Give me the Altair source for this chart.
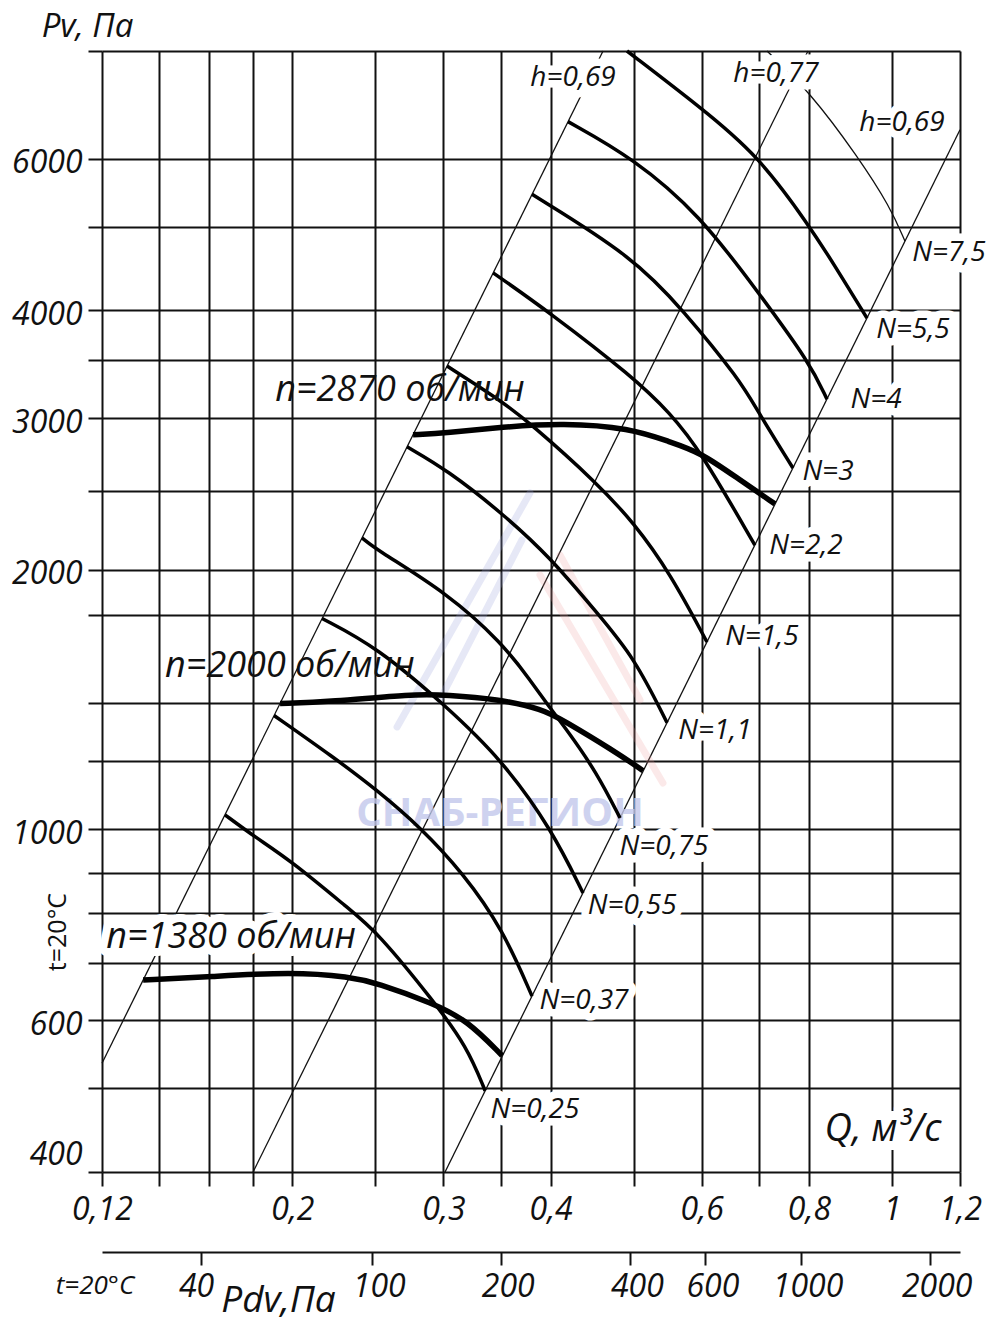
import altair as alt
import pandas as pd

# ---------------- axes / grid values ----------------
GRID_Q = [0.12, 0.14, 0.16, 0.18, 0.2, 0.25, 0.3, 0.35, 0.4, 0.5, 0.6, 0.7, 0.8, 1.0, 1.2]
GRID_PV = [400, 500, 600, 700, 800, 890, 1000, 1200, 1400, 1770, 2000, 2470,
           3000, 3500, 4000, 5000, 6000, 8000]
Q_LABELS = [0.12, 0.2, 0.3, 0.4, 0.6, 0.8, 1.0, 1.2]
PV_LABELS = [400, 600, 1000, 2000, 3000, 4000, 6000]
PDV_TICKS = [40, 100, 200, 400, 600, 1000, 2000]
PDV_DOMAIN = [23.5, 2354]

# ---------------- thin system (efficiency) lines ----------------
H1_Q = [0.12, 0.4604]
H1_PV = [535, 8000]
H2_Q = [0.18, 0.798]
H2_PV = [400, 8000]
H3_Q = [0.3013, 1.2]
H3_PV = [400, 6481]

# ---------------- rpm curves ----------------
R1380_Q = [0.134, 0.16, 0.2, 0.2335, 0.251, 0.2917, 0.3197, 0.3511]
R1380_PV = [668, 674, 683, 674, 663, 628, 600, 546]
R2000_Q = [0.1935, 0.2213, 0.2765, 0.3029, 0.3465, 0.3919, 0.4135, 0.4729, 0.5126]
R2000_PV = [1399, 1405, 1435, 1431, 1416, 1378, 1338, 1235, 1169]
R2870_Q = [0.2765, 0.3029, 0.3511, 0.4135, 0.495, 0.551, 0.5972, 0.6648, 0.7303]
R2870_PV = [2869, 2882, 2929, 2960, 2921, 2814, 2740, 2542, 2385]

# ---------------- power curves ----------------
N025_Q = [0.1669, 0.1809, 0.1987, 0.2335, 0.251, 0.2917, 0.3197, 0.3355]
N025_PV = [1039, 979, 921, 806, 760, 633, 559, 497]
N037_Q = [0.1904, 0.2231, 0.251, 0.2817, 0.3163, 0.3521, 0.3805]
N037_PV = [1355, 1213, 1110, 1006, 889, 764, 640]
N055_Q = [0.2166, 0.251, 0.3029, 0.3511, 0.4015, 0.4363]
N055_PV = [1756, 1627, 1386, 1203, 998, 843]
N075_Q = [0.2411, 0.251, 0.3029, 0.3511, 0.3785, 0.3993, 0.418, 0.453, 0.4819]
N075_PV = [2178, 2108, 1880, 1645, 1490, 1382, 1303, 1162, 1030]
N11_Q = [0.2721, 0.3029, 0.3511, 0.3993, 0.453, 0.5003, 0.5467]
N11_PV = [2778, 2611, 2327, 2069, 1782, 1584, 1329]
N15_Q = [0.3029, 0.3492, 0.3785, 0.453, 0.5003, 0.551, 0.6085]
N15_PV = [3447, 3148, 2960, 2522, 2266, 1983, 1649]
N22_Q = [0.3428, 0.3983, 0.499, 0.551, 0.5972, 0.692]
N22_PV = [4422, 3983, 3347, 3041, 2754, 2136]
N3_Q = [0.3805, 0.499, 0.5706, 0.6648, 0.6959, 0.7664]
N3_PV = [5454, 4615, 4004, 3321, 3065, 2625]
N4_Q = [0.4191, 0.499, 0.5972, 0.6977, 0.8023, 0.8398]
N4_PV = [6624, 6012, 5163, 4202, 3475, 3155]
N55_Q = [0.491, 0.5972, 0.6977, 0.8023, 0.8535, 0.9349]
N55_PV = [8000, 6889, 6060, 5000, 4541, 3918]
N75_Q = [0.7148, 0.8023, 0.9126, 0.9949, 1.0353]
N75_PV = [8000, 7170, 6028, 5274, 4812]

# ---------------- faint watermark logo strokes ----------------
LOGO_B1_Q = [0.2649, 0.3785]
LOGO_B1_PV = [1314, 2456]
LOGO_B2_Q = [0.2972, 0.3704]
LOGO_B2_PV = [1412, 2166]
LOGO_R1_Q = [0.3887, 0.5407]
LOGO_R1_PV = [1972, 1131]
LOGO_R2_Q = [0.4103, 0.5084]
LOGO_R2_PV = [2080, 1412]

# ---------------- labels ----------------
LBL_TEXT = ["h=0,69", "h=0,77", "h=0,69", "N=7,5", "N=5,5", "N=4", "N=3", "N=2,2",
            "N=1,5", "N=1,1", "N=0,75", "N=0,55", "N=0,37", "N=0,25"]
LBL_Q = [0.4248, 0.7323, 1.027, 1.165, 1.0578, 0.958, 0.842, 0.7938,
         0.7052, 0.6217, 0.5423, 0.4978, 0.4375, 0.3835]
LBL_PV = [7444, 7524, 6601, 4665, 3796, 3148, 2597, 2131, 1671, 1300, 954, 814, 632, 472]

RPM_TEXT = ["n=2870 об/мин", "n=2000 об/мин", "n=1380 об/мин"]
RPM_Q = [0.267, 0.1987, 0.1697]
RPM_PV = [3234, 1547, 750]
RPM_HALO = [False, False, True]

Q_TITLE = ["Q, м³/с"]
Q_TITLE_Q = [0.976]
Q_TITLE_PV = [447]

WM_TEXT = ["СНАБ-РЕГИОН"]
WM_Q = [0.3492]
WM_PV = [1040]

FONT = "Open Sans"
W, H = 858, 1121
INK = "#111"


def line_df(name, qs, pvs):
    return pd.DataFrame({"Q": qs, "Pv": pvs, "id": name, "ord": list(range(len(qs)))})


def xscale():
    return alt.Scale(type="log", domain=[0.12, 1.2], nice=False, zero=False)


ys = alt.Scale(type="log", domain=[400, 8000], nice=False, zero=False)

q_lab_list = ",".join(str(v) for v in Q_LABELS)
pv_lab_list = ",".join(str(v) for v in PV_LABELS)

x_axis = alt.Axis(
    orient="bottom", values=GRID_Q, grid=True, gridColor=INK, gridWidth=2, gridOpacity=1,
    ticks=True, tickSize=14, tickWidth=2, tickColor=INK, domain=False,
    labelExpr=f"indexof([{q_lab_list}], datum.value) >= 0 ? replace(toString(datum.value), '.', ',') : ''",
    labelFont=FONT, labelFontStyle="italic", labelFontSize=32, labelColor=INK,
    labelPadding=8, labelFlush=False, labelOverlap=False, labelBound=False, title=None,
)
y_axis = alt.Axis(
    orient="left", values=GRID_PV, grid=True, gridColor=INK, gridWidth=2, gridOpacity=1,
    ticks=True, tickSize=14, tickWidth=2, tickColor=INK, domain=False,
    labelExpr=f"indexof([{pv_lab_list}], datum.value) >= 0 ? toString(datum.value) : ''",
    labelFont=FONT, labelFontStyle="italic", labelFontSize=32, labelColor=INK,
    labelPadding=6, labelFlush=False, labelOverlap=False, labelBound=False,
    labelBaseline="middle",
    labelOffset={"condition": {"test": "datum.value == 400", "value": -18}, "value": 4},
    title="Pv, Па", titleFont=FONT, titleFontStyle="italic", titleFontSize=33,
    titleFontWeight="normal", titleColor=INK, titleAngle=0, titleX=-15, titleY=-15,
    titleAlign="center", titleBaseline="alphabetic",
)

sys_df = pd.concat([line_df("h1", H1_Q, H1_PV), line_df("h2", H2_Q, H2_PV),
                    line_df("h3", H3_Q, H3_PV)])
rpm_df = pd.concat([line_df("r1380", R1380_Q, R1380_PV), line_df("r2000", R2000_Q, R2000_PV),
                    line_df("r2870", R2870_Q, R2870_PV)])
n_df = pd.concat([line_df("n025", N025_Q, N025_PV), line_df("n037", N037_Q, N037_PV),
                  line_df("n055", N055_Q, N055_PV), line_df("n075", N075_Q, N075_PV),
                  line_df("n11", N11_Q, N11_PV), line_df("n15", N15_Q, N15_PV),
                  line_df("n22", N22_Q, N22_PV), line_df("n3", N3_Q, N3_PV),
                  line_df("n4", N4_Q, N4_PV), line_df("n55", N55_Q, N55_PV)])
thin_df = line_df("n75", N75_Q, N75_PV)
logo_blue_df = pd.concat([line_df("b1", LOGO_B1_Q, LOGO_B1_PV), line_df("b2", LOGO_B2_Q, LOGO_B2_PV)])
logo_red_df = pd.concat([line_df("r1", LOGO_R1_Q, LOGO_R1_PV), line_df("r2", LOGO_R2_Q, LOGO_R2_PV)])


def X():
    return alt.X("Q:Q", scale=xscale(), axis=None)


def Y():
    # the same explicit axis on every layer so the shared y axis merges cleanly
    return alt.Y("Pv:Q", scale=ys, axis=y_axis)


sys_layer = alt.Chart(sys_df).mark_line(color=INK, strokeWidth=1.3).encode(
    x=alt.X("Q:Q", scale=xscale(), axis=x_axis),
    y=Y(), detail="id:N", order="ord:Q")

logo_blue = alt.Chart(logo_blue_df).mark_line(color="#9aa3dc", strokeWidth=7, opacity=0.25,
                                              strokeCap="round").encode(
    x=X(), y=Y(), detail="id:N", order="ord:Q")
logo_red = alt.Chart(logo_red_df).mark_line(color="#ee9a9a", strokeWidth=7, opacity=0.22,
                                            strokeCap="round").encode(
    x=X(), y=Y(), detail="id:N", order="ord:Q")

wm_df = pd.DataFrame({"Q": WM_Q, "Pv": WM_PV, "t": WM_TEXT})
wm_layer = alt.Chart(wm_df).mark_text(font=FONT, fontWeight="bold", fontSize=40,
                                      color="#c3c8ec", opacity=0.8).encode(x=X(), y=Y(), text="t:N")

rpm_layer = alt.Chart(rpm_df).mark_line(color="#000", strokeWidth=5.5, interpolate="basis").encode(
    x=X(), y=Y(), detail="id:N", order="ord:Q")
n_layer = alt.Chart(n_df).mark_line(color="#000", strokeWidth=3.5, interpolate="basis").encode(
    x=X(), y=Y(), detail="id:N", order="ord:Q")
thin_layer = alt.Chart(thin_df).mark_line(color=INK, strokeWidth=1.3, interpolate="basis").encode(
    x=X(), y=Y(), order="ord:Q")

lbl_df = pd.DataFrame({"Q": LBL_Q, "Pv": LBL_PV, "t": LBL_TEXT})
lbl_halo = alt.Chart(lbl_df).mark_text(font=FONT, fontStyle="italic", fontSize=28, fill="white",
                                       stroke="white", strokeWidth=15, strokeJoin="round").encode(
    x=X(), y=Y(), text="t:N")
lbl_text = alt.Chart(lbl_df).mark_text(font=FONT, fontStyle="italic", fontSize=28, color=INK).encode(
    x=X(), y=Y(), text="t:N")

rpm_lbl_df = pd.DataFrame({"Q": RPM_Q, "Pv": RPM_PV, "t": RPM_TEXT, "halo": RPM_HALO})
rpm_halo = alt.Chart(rpm_lbl_df).transform_filter("datum.halo").mark_text(
    font=FONT, fontStyle="italic", fontSize=36, fill="white", stroke="white", strokeWidth=16,
    strokeJoin="round").encode(x=X(), y=Y(), text="t:N")
rpm_text = alt.Chart(rpm_lbl_df).mark_text(font=FONT, fontStyle="italic", fontSize=36,
                                           color=INK).encode(x=X(), y=Y(), text="t:N")

qt_df = pd.DataFrame({"Q": Q_TITLE_Q, "Pv": Q_TITLE_PV, "t": Q_TITLE})
qt_halo = alt.Chart(qt_df).mark_text(font=FONT, fontStyle="italic", fontSize=38, fill="white",
                                     stroke="white", strokeWidth=18, strokeJoin="round").encode(
    x=X(), y=Y(), text="t:N")
qt_text = alt.Chart(qt_df).mark_text(font=FONT, fontStyle="italic", fontSize=38, color=INK).encode(
    x=X(), y=Y(), text="t:N")

t_vert = alt.Chart(pd.DataFrame({"t": ["t=20°C"]})).mark_text(
    font=FONT, fontSize=25, angle=270, color=INK).encode(
    x=alt.value(-44), y=alt.value(881), text="t:N")
t_bottom = alt.Chart(pd.DataFrame({"t": ["t=20°C"]})).mark_text(
    font=FONT, fontStyle="italic", fontSize=26, color=INK).encode(
    x=alt.value(-7), y=alt.value(1235), text="t:N")

pdv_axis = alt.Axis(
    orient="bottom", offset=80, values=PDV_TICKS, grid=False,
    domain=True, domainColor=INK, domainWidth=2,
    ticks=True, tickSize=13, tickWidth=2, tickColor=INK,
    labelExpr="toString(datum.value)", labelFont=FONT, labelFontStyle="italic",
    labelFontSize=32, labelColor=INK, labelPadding=6,
    labelOffset={"condition": {"test": "datum.value == 40", "value": -5}, "value": 7},
    labelFlush=False, labelOverlap=False, labelBound=False,
    title="Pdv,Па", titleFont=FONT, titleFontStyle="italic", titleFontSize=37,
    titleFontWeight="normal", titleColor=INK, titleX=176, titleY=48,
    titleAlign="center", titleBaseline="middle", titleAngle=0,
)
pdv_df = pd.DataFrame({"Pdv": PDV_TICKS})
pdv_layer = alt.Chart(pdv_df).mark_point(opacity=0).encode(
    x=alt.X("Pdv:Q", scale=alt.Scale(type="log", domain=PDV_DOMAIN, nice=False, zero=False),
            axis=pdv_axis),
    y=alt.value(0))

chart = alt.layer(sys_layer, logo_blue, logo_red, wm_layer, rpm_layer, n_layer, thin_layer,
                  lbl_halo, lbl_text, rpm_halo, rpm_text, qt_halo, qt_text,
                  t_vert, t_bottom, pdv_layer).resolve_scale(x="independent").properties(
    width=W, height=H,
    autosize=alt.AutoSizeParams(type="none"),
    padding={"left": 94, "top": 43, "right": 30, "bottom": 155},
    background="white",
).configure_view(stroke=None)

chart.save("out.html", embed_options={"renderer": "svg", "actions": False})
